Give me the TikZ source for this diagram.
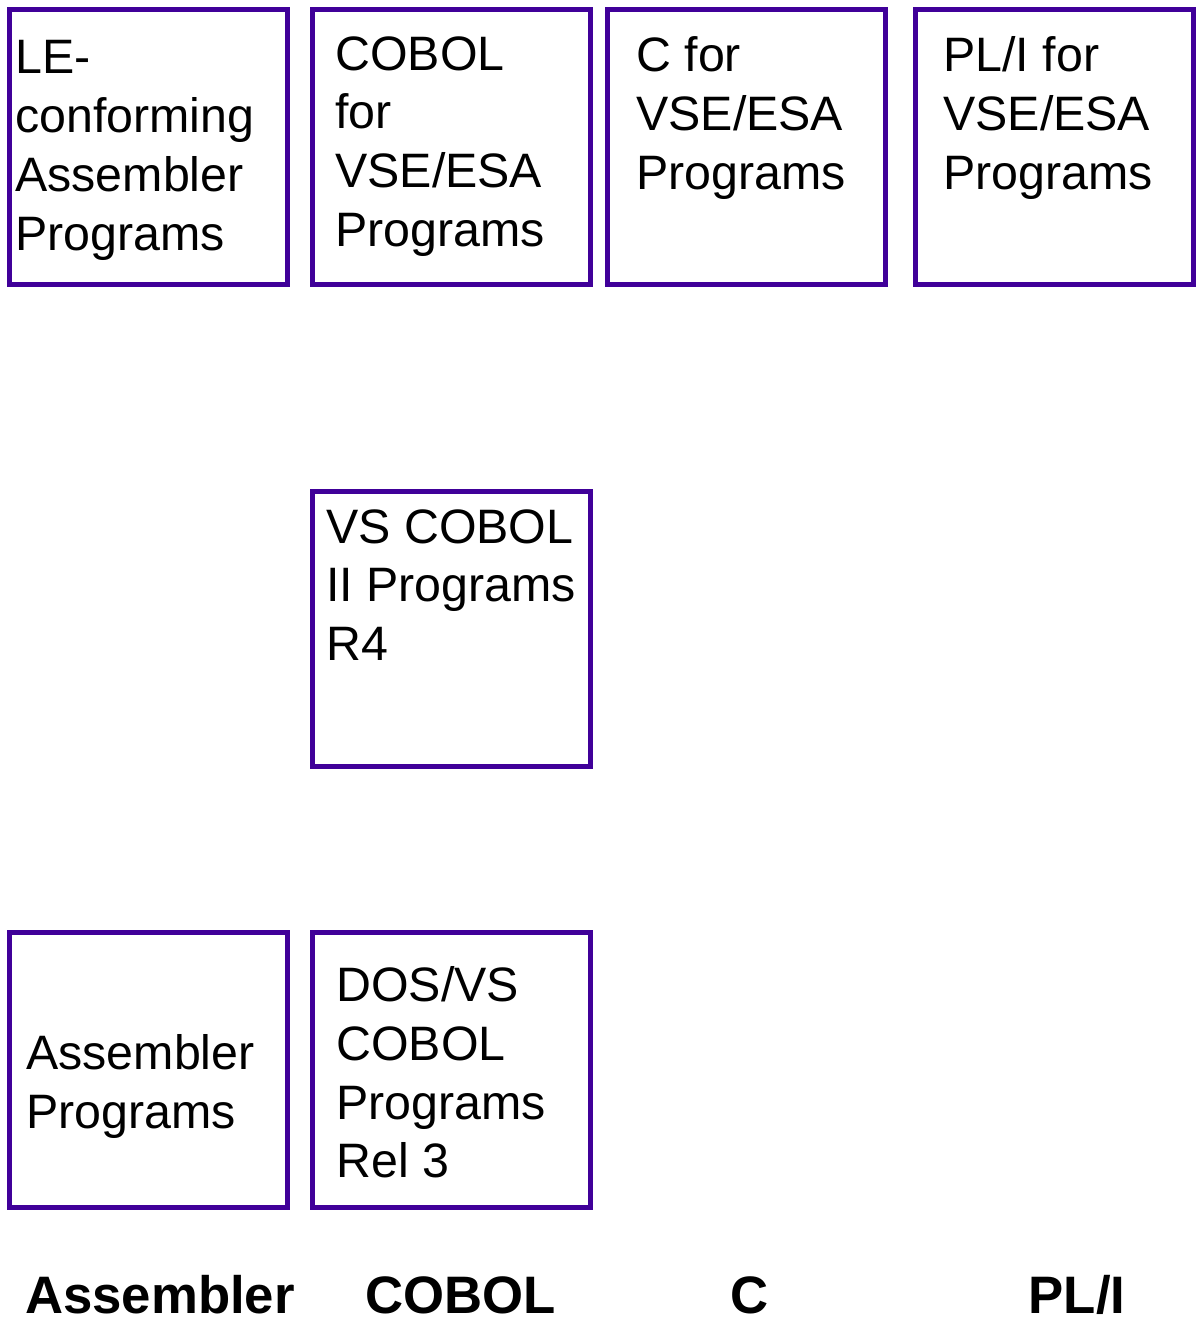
\documentclass[tikz,border=0pt]{standalone}
\usepackage{fontspec}
\setmainfont{Liberation Sans}
\usepackage{tikz}

\definecolor{lepurple}{RGB}{64,0,153}

\begin{document}
\begin{tikzpicture}[
      x=1cm, y=1cm,
      bx/.style={draw=lepurple, line width=0.1cm, minimum width=5.56cm,
                 minimum height=5.5cm, inner sep=0pt},
      t/.style={anchor=north west, align=left, inner sep=0pt,
                font=\fontsize{27.5pt}{33.5pt}\selectfont},
      lang/.style={anchor=base, inner sep=0pt,
                   font=\fontsize{30pt}{36pt}\selectfont\bfseries},
    ]
    \useasboundingbox (0,0) rectangle (23.9,-26.36);
    % top row: LE-conforming programs
    \node[bx] (leasm) at (2.97,-2.94)   {};
    \node[bx] (lecob) at (9.03,-2.94)   {};
    \node[bx] (lec)   at (14.93,-2.94)  {};
    \node[bx] (lepli) at (21.09,-2.94)  {};
    \node[t] (leasmt) at (0.30,-0.80) {LE-\\conforming\\Assembler\\Programs};
    \node[t] (lecobt) at (6.70,-0.72) {COBOL\\for\\VSE/ESA\\Programs};
    \node[t] (lect)   at (12.72,-0.72) {C for\\VSE/ESA\\Programs};
    \node[t] (leplit) at (18.86,-0.72) {PL/I for\\VSE/ESA\\Programs};
    % middle row
    \node[bx] (vscob) at (9.03,-12.58) {};
    \node[t] (vscobt) at (6.52,-10.18) {VS COBOL\\II Programs\\R4};
    % bottom row: older programs
    \node[bx] (asm)   at (2.97,-21.4)  {};
    \node[bx] (doscob) at (9.03,-21.4) {};
    \node[t] (asmt)   at (0.52,-20.68) {Assembler\\Programs};
    \node[t] (doscobt) at (6.72,-19.32) {DOS/VS\\COBOL\\Programs\\Rel 3};
    % language labels
    \node[lang] (lasm) at (3.2,-26.27)   {Assembler};
    \node[lang] (lcob) at (9.22,-26.27)  {COBOL};
    \node[lang] (lc)   at (15.0,-26.27)  {C};
    \node[lang] (lpli) at (21.54,-26.27) {PL/I};
\end{tikzpicture}
\end{document}
